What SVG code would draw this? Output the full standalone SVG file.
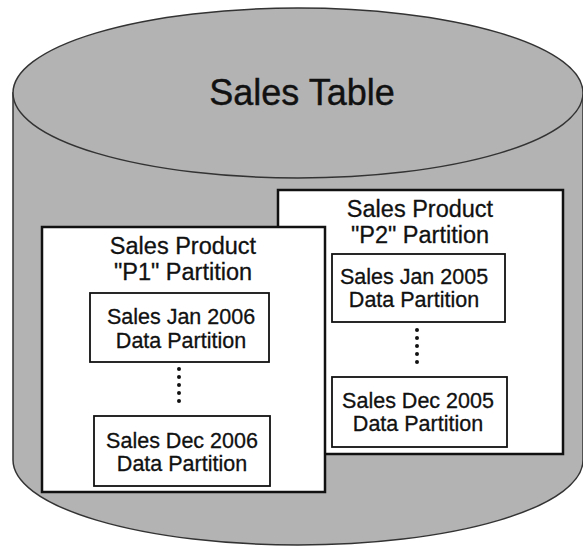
<svg xmlns="http://www.w3.org/2000/svg" width="583" height="546" viewBox="0 0 583 546">
  <style>
    .cyl { fill: #b3b3b3; stroke: #333; stroke-width: 1.5; }
    .part { fill: #fff; stroke: #111; stroke-width: 2.5; }
    .sub { fill: #fff; stroke: #111; stroke-width: 1.8; }
    .dots { stroke: #111; stroke-width: 4; stroke-linecap: round; stroke-dasharray: 0 8; fill: none; }
    text { font-family: "Liberation Sans", Arial, sans-serif; fill: #111; stroke: #111; stroke-width: 0.3; text-anchor: middle; }
    .title { font-size: 36px; stroke-width: 0.4; }
    .head { font-size: 23.5px; }
    .lbl { font-size: 21.5px; }
  </style>

  <!-- cylinder: body, then top cap -->
  <g id="sales-table">
    <path class="cyl" d="M13,93 L13,460 A285,85 0 0 0 583,460 L583,93 Z"/>
    <ellipse class="cyl" cx="298" cy="93" rx="285" ry="85"/>
    <text class="title" x="302" y="105">Sales Table</text>
  </g>

  <!-- product P2 partition (behind) -->
  <g id="p2">
    <rect class="part" x="278" y="190" width="285" height="264"/>
    <text class="head" x="420" y="217">Sales Product</text>
    <text class="head" x="420" y="243">"P2" Partition</text>
  </g>
  <g id="p2-jan">
    <rect class="sub" x="332" y="254" width="173" height="68"/>
    <text class="lbl" x="414" y="284">Sales Jan 2005</text>
    <text class="lbl" x="414" y="307">Data Partition</text>
  </g>
  <g id="p2-dec">
    <rect class="sub" x="332" y="377" width="175" height="70"/>
    <text class="lbl" x="418" y="408">Sales Dec 2005</text>
    <text class="lbl" x="418" y="431">Data Partition</text>
  </g>

  <!-- product P1 partition (front) -->
  <g id="p1">
    <rect class="part" x="42" y="227" width="283" height="265"/>
    <text class="head" x="183" y="254">Sales Product</text>
    <text class="head" x="183" y="280">"P1" Partition</text>
  </g>
  <g id="p1-jan">
    <rect class="sub" x="90" y="293" width="179" height="69"/>
    <text class="lbl" x="181" y="324">Sales Jan 2006</text>
    <text class="lbl" x="181" y="348">Data Partition</text>
  </g>
  <g id="p1-dec">
    <rect class="sub" x="94" y="416" width="176" height="70"/>
    <text class="lbl" x="182" y="448">Sales Dec 2006</text>
    <text class="lbl" x="182" y="471">Data Partition</text>
  </g>

  <!-- dotted continuation between first and last data partitions -->
  <g id="connectors">
    <line class="dots" x1="179" y1="369" x2="179" y2="408"/>
    <line class="dots" x1="417" y1="330" x2="417" y2="370"/>
  </g>
</svg>
